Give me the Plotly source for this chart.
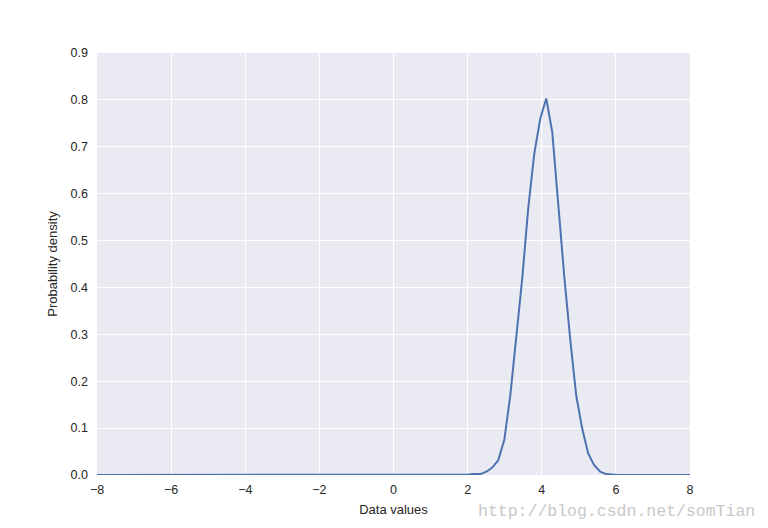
import numpy as np
import plotly.graph_objects as go

# grid of 100 evenly spaced data values from -8 to 8 (as in the source chart)
x_values = np.linspace(-8, 8, 100)

# probability density (index -> value); zero elsewhere
density_by_index = {
    62: 0.001, 63: 0.002, 64: 0.002, 65: 0.007, 66: 0.016, 67: 0.032,
    68: 0.075, 69: 0.17, 70: 0.29, 71: 0.42, 72: 0.57, 73: 0.685,
    74: 0.76, 75: 0.803, 76: 0.732, 77: 0.574, 78: 0.425, 79: 0.29,
    80: 0.17, 81: 0.099, 82: 0.046, 83: 0.021, 84: 0.007, 85: 0.002,
    86: 0.0005,
}
density = [density_by_index.get(i, 0.0) for i in range(len(x_values))]

x_ticks = [-8, -6, -4, -2, 0, 2, 4, 6, 8]
y_ticks = [0.0, 0.1, 0.2, 0.3, 0.4, 0.5, 0.6, 0.7, 0.8, 0.9]

font_family = "Liberation Sans, Arial, sans-serif"
text_color = "#262626"

fig = go.Figure()
fig.add_trace(go.Scatter(
    x=x_values, y=density, mode="lines",
    line=dict(color="#4C72B0", width=2),
    showlegend=False,
))

# page body has an 8px margin, so the figure is 760x520 with margins shifted
fig.update_layout(
    width=760, height=520,
    margin=dict(l=89, r=78, t=45, b=53),
    paper_bgcolor="white",
    plot_bgcolor="#EAEAF2",
    font=dict(family=font_family, size=12, color=text_color),
    xaxis=dict(
        range=[-8, 8], tickvals=x_ticks, showgrid=True, gridcolor="white",
        gridwidth=1, zeroline=False, showline=False, ticks="",
        ticklabelstandoff=5,
        title=dict(text="Data values", font=dict(size=13, color=text_color), standoff=9),
        tickfont=dict(size=12.5, color=text_color),
    ),
    yaxis=dict(
        range=[0, 0.9], tickvals=y_ticks, tickformat=".1f", showgrid=True,
        gridcolor="white", gridwidth=1, zeroline=False, showline=False, ticks="",
        ticklabelstandoff=8,
        title=dict(text="Probability density", font=dict(size=13, color=text_color), standoff=10),
        tickfont=dict(size=12.5, color=text_color),
    ),
    annotations=[dict(
        text="http://blog.csdn.net/somTian", xref="paper", yref="paper",
        x=1.0 + 67 / 593, y=-36 / 422, xanchor="right", yanchor="middle",
        showarrow=False,
        font=dict(family="Liberation Mono, Courier New, monospace", size=16.5, color="#c8c8c8"),
    )],
)

fig.write_html("out.html")
